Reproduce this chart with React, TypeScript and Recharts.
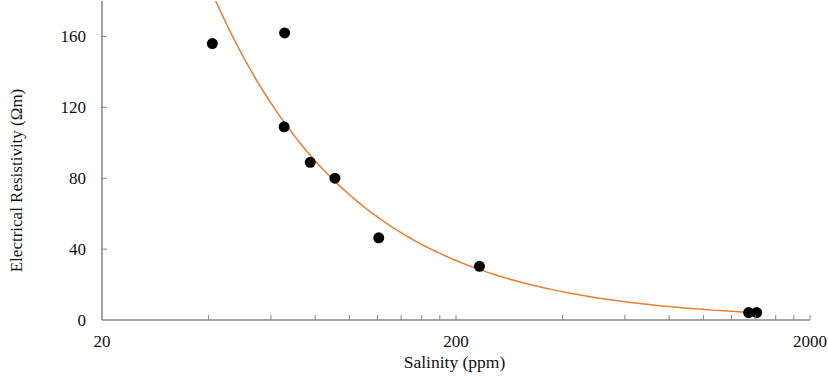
import React from 'react';
import { ComposedChart, XAxis, YAxis, Scatter, Line } from 'recharts';

// Measured data (Salinity ppm vs Electrical Resistivity Ωm)
const salinity = [41, 65.6, 65.4, 77.5, 91, 121, 233, 1342, 1414];
const resistivity = [156, 162, 109, 89, 80, 46.4, 30.3, 4.2, 4.2];

const xTicks = [20, 40, 60, 80, 100, 120, 140, 160, 180, 200, 400, 600, 800, 1000, 1200, 1400, 1600, 1800, 2000];
const xLabelTicks = [20, 200, 2000];
const yTicks = [0, 40, 80, 120, 160];

const FONT = "'Liberation Serif', 'Times New Roman', serif";
const TEXT = '#111111';
const AXIS = '#868686';
const ORANGE = '#ED7D31';

const points = salinity.map((x, i) => ({ x, y: resistivity[i] }));

// Power trendline (least squares in log-log space), like a spreadsheet "power" trendline
function powerFit(xs: number[], ys: number[]) {
  const lx = xs.map(Math.log);
  const ly = ys.map(Math.log);
  const n = xs.length;
  const mx = lx.reduce((a, b) => a + b, 0) / n;
  const my = ly.reduce((a, b) => a + b, 0) / n;
  let sxy = 0;
  let sxx = 0;
  for (let i = 0; i < n; i++) {
    sxy += (lx[i] - mx) * (ly[i] - my);
    sxx += (lx[i] - mx) * (lx[i] - mx);
  }
  const b = sxy / sxx;
  const a = Math.exp(my - b * mx);
  return { a, b };
}

const fit = powerFit(salinity, resistivity);
const xMin = Math.min(...salinity);
const xMax = Math.max(...salinity);
const trend = Array.from({ length: 150 }, (_, i) => {
  const x = Math.exp(Math.log(xMin) + (Math.log(xMax) - Math.log(xMin)) * (i / 149));
  return { x, y: fit.a * Math.pow(x, fit.b) };
});

const X_MARGIN = 15;
const Y_MARGIN = 16;

const XTick = (props: any) => {
  const { x, y, payload } = props;
  const axisY = y - X_MARGIN;
  const showLabel = xLabelTicks.includes(payload.value);
  const isFirst = payload.value === xTicks[0];
  return (
    <g>
      {!isFirst && <line x1={x} x2={x} y1={axisY} y2={axisY - 5} stroke={AXIS} strokeWidth={1} />}
      {showLabel && (
        <text x={x} y={y} dy="0.71em" textAnchor="middle" fontFamily={FONT} fontSize={17} fill={TEXT}>
          {payload.value}
        </text>
      )}
    </g>
  );
};

const YTick = (props: any) => {
  const { x, y, payload } = props;
  const axisX = x + Y_MARGIN;
  return (
    <g>
      {payload.value !== 0 && <line x1={axisX - 1} x2={axisX + 5} y1={y} y2={y} stroke={AXIS} strokeWidth={1} />}
      <text x={x} y={y} dy="0.355em" textAnchor="end" fontFamily={FONT} fontSize={17} fill={TEXT}>
        {payload.value}
      </text>
    </g>
  );
};

const Dot = (props: any) => <circle cx={props.cx} cy={props.cy} r={5.5} fill="#000" />;

export default function App() {
  return (
    <div style={{ position: 'absolute', left: 0, top: 0 }}>
      <ComposedChart width={828} height={376} margin={{ top: 1, right: 18, bottom: 0, left: 0 }}>
        <XAxis
          dataKey="x"
          type="number"
          scale="log"
          domain={[20, 2000]}
          allowDataOverflow
          ticks={xTicks}
          interval={0}
          tick={<XTick />}
          tickLine={false}
          tickSize={0}
          tickMargin={X_MARGIN}
          height={56}
          axisLine={{ stroke: AXIS, strokeWidth: 1.5 }}
          label={{
            content: () => (
              <text x={454.5} y={367.5} textAnchor="middle" fontFamily={FONT} fontSize={17.5} fill={TEXT}>
                Salinity (ppm)
              </text>
            ),
          }}
        />
        <YAxis
          dataKey="y"
          type="number"
          domain={[0, 180]}
          allowDataOverflow
          ticks={yTicks}
          interval={0}
          width={102}
          tickLine={false}
          tickSize={0}
          tickMargin={Y_MARGIN}
          tick={<YTick />}
          axisLine={{ stroke: AXIS, strokeWidth: 1.5 }}
          label={{
            content: () => (
              <text
                x={16}
                y={180.5}
                transform="rotate(-90 16 180.5)"
                textAnchor="middle"
                dominantBaseline="central"
                fontFamily={FONT}
                fontSize={17}
                fill={TEXT}
              >
                Electrical Resistivity (Ωm)
              </text>
            ),
          }}
        />
        <Line
          data={trend}
          dataKey="y"
          type="linear"
          stroke={ORANGE}
          strokeWidth={1.5}
          dot={false}
          activeDot={false}
          isAnimationActive={false}
        />
        <Scatter data={points} dataKey="y" shape={<Dot />} isAnimationActive={false} />
      </ComposedChart>
    </div>
  );
}
